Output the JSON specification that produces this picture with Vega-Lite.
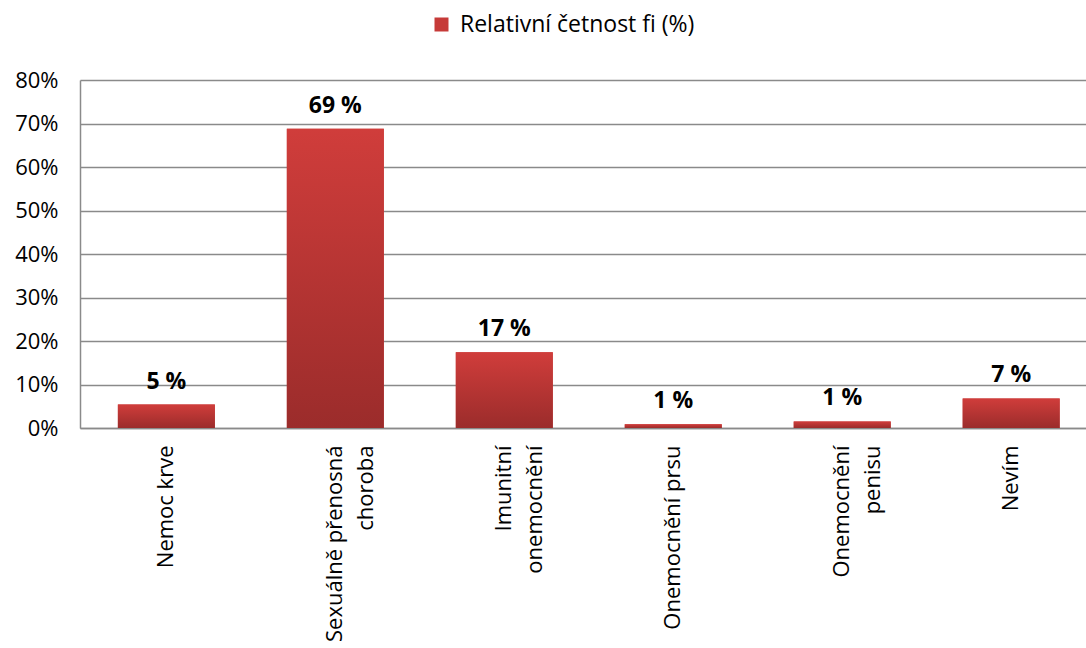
{
  "$schema": "https://vega.github.io/schema/vega-lite/v6.json",
  "width": 1006,
  "height": 348,
  "autosize": "none",
  "padding": {"left": 80, "top": 80, "right": 0, "bottom": 220},
  "background": "white",
  "config": {
    "font": "Open Sans",
    "view": {"stroke": null},
    "axis": {"labelFont": "Open Sans", "labelColor": "#000000", "labelFontSize": 22}
  },
  "data": {
    "values": [
      {"kategorie": "Nemoc krve", "hodnota": 5.4, "label": "5 %"},
      {"kategorie": "Sexuálně přenosná choroba", "hodnota": 68.8, "label": "69 %"},
      {"kategorie": "Imunitní onemocnění", "hodnota": 17.4, "label": "17 %"},
      {"kategorie": "Onemocnění prsu", "hodnota": 0.85, "label": "1 %"},
      {"kategorie": "Onemocnění penisu", "hodnota": 1.5, "label": "1 %"},
      {"kategorie": "Nevím", "hodnota": 6.8, "label": "7 %"}
    ]
  },
  "encoding": {
    "x": {
      "field": "kategorie",
      "type": "nominal",
      "sort": null,
      "scale": {"paddingInner": 0.426, "paddingOuter": 0.19, "align": 0.59},
      "axis": {
        "title": null,
        "labelAngle": 270,
        "labelAlign": "right",
        "labelBaseline": "middle",
        "labelPadding": 17,
        "labelLineHeight": 31,
        "labelFontSize": 22,
        "labelLimit": 400,
        "ticks": false,
        "domainColor": "#8a8a8a",
        "domainWidth": 1.5,
        "labelExpr": "datum.value == 'Sexuálně přenosná choroba' ? ['Sexuálně přenosná', 'choroba'] : datum.value == 'Imunitní onemocnění' ? ['Imunitní', 'onemocnění'] : datum.value == 'Onemocnění penisu' ? ['Onemocnění', 'penisu'] : datum.value"
      }
    },
    "y": {
      "field": "hodnota",
      "type": "quantitative",
      "scale": {"domain": [0, 80], "nice": false},
      "axis": {
        "title": null,
        "values": [0, 10, 20, 30, 40, 50, 60, 70, 80],
        "labelExpr": "datum.value + '%'",
        "ticks": false,
        "labelPadding": 22,
        "domainColor": "#8a8a8a",
        "domainWidth": 1.5,
        "gridColor": "#8a8a8a",
        "gridWidth": 1.5
      }
    }
  },
  "layer": [
    {
      "mark": {"type": "bar"},
      "encoding": {
        "color": {
          "datum": "Relativní četnost fi (%)",
          "type": "nominal",
          "scale": {"range": ["#c63a38"]},
          "legend": {
            "title": null,
            "orient": "none",
            "legendX": 350,
            "legendY": -67,
            "symbolType": "square",
            "symbolSize": 196,
            "symbolStrokeWidth": 0,
            "labelFont": "Open Sans",
            "labelFontSize": 23,
            "labelColor": "#000000",
            "labelOffset": 7,
            "labelLimit": 500
          }
        }
      }
    },
    {
      "mark": {
        "type": "bar",
        "color": {
          "gradient": "linear",
          "x1": 0, "y1": 0, "x2": 0, "y2": 1,
          "stops": [
            {"offset": 0, "color": "#d03d3b"},
            {"offset": 1, "color": "#9b2c2b"}
          ]
        }
      },
      "encoding": {}
    },
    {
      "mark": {"type": "text", "fontWeight": "bold", "fontSize": 23, "font": "Open Sans", "baseline": "middle", "dy": -23, "color": "#000000"},
      "encoding": {"text": {"field": "label"}}
    }
  ]
}
